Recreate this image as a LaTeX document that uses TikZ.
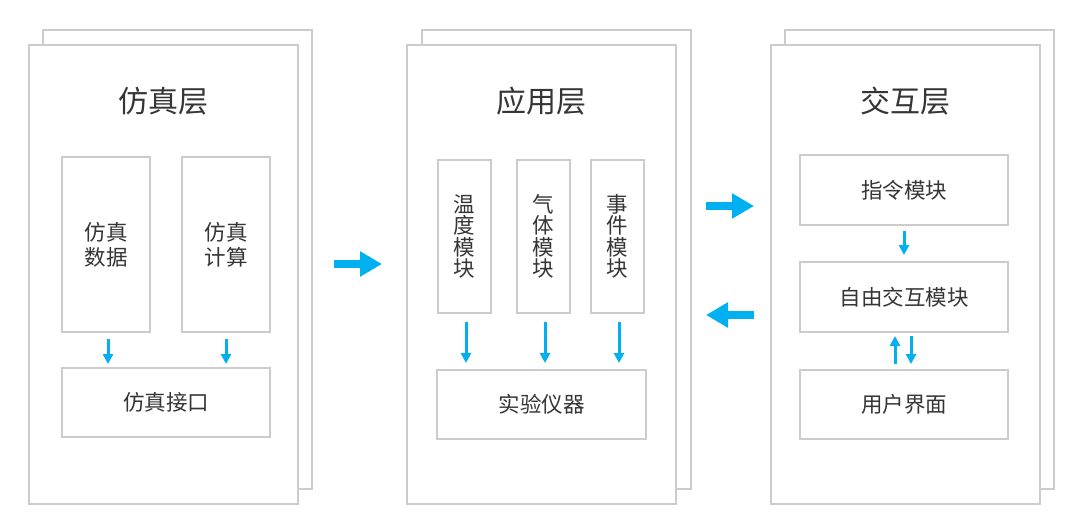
\documentclass[tikz,border=0pt]{standalone}
\usepackage{fontspec}
\newfontfamily\cjk{Noto Sans CJK SC}
\usetikzlibrary{arrows.meta,positioning}
\definecolor{edgegray}{HTML}{CCCCCC}
\definecolor{textgray}{HTML}{353535}
\definecolor{flowblue}{HTML}{00B0F0}

\begin{document}
\begin{tikzpicture}[x=1pt,y=-1pt,
		layer/.style={draw=edgegray,line width=2pt,fill=white,inner sep=0pt,minimum width=269,minimum height=459},
		title/.style={text=textgray,font=\cjk\fontsize{30}{32}\selectfont},
		box/.style={draw=edgegray,line width=2pt,inner sep=0pt,text=textgray,align=center,font=\cjk\fontsize{21.5}{25}\selectfont},
		vbox/.style={box,minimum width=53,minimum height=153,font=\cjk\fontsize{21.5}{21.5}\selectfont},
		bigarrow/.style={draw=flowblue,line width=8pt,-{Triangle[width=24pt,length=22pt]}},
		smallarrow/.style={draw=flowblue,line width=3pt,-{Triangle[width=10pt,length=10pt]}}]
		\useasboundingbox (0,0) rectangle (1084,523);
		
		% layers, back sheet first
		\node[layer] (b1) at (177.5,259) {};
		\node[layer] (p1) at (163.5,274.5) {};
		\node[layer] (b2) at (556.5,259) {};
		\node[layer] (p2) at (541.5,274.5) {};
		\node[layer] (b3) at (919.5,259) {};
		\node[layer] (p3) at (905.5,274.5) {};
		
		\node[title] (t1) at (163,101) {仿真层};
		\node[title] (t2) at (541,101) {应用层};
		\node[title] (t3) at (905,101) {交互层};
		
		% simulation layer
		\node[box,minimum width=88,minimum height=175] (data) at (106,244.5) {仿真\\数据};
		\node[box,minimum width=88,minimum height=175] (calc) at (226,244.5) {仿真\\计算};
		\node[box,minimum width=208,minimum height=69] (iface) at (166,402.5) {仿真接口};
		
		% application layer
		\node[vbox] (temp) at (464.5,236.5) {温\\度\\模\\块};
		\node[vbox] (gas) at (543.5,236.5) {气\\体\\模\\块};
		\node[vbox] (event) at (617.5,236.5) {事\\件\\模\\块};
		\node[box,minimum width=209,minimum height=69] (instr) at (541.5,404.5) {实验仪器};
		
		% interaction layer
		\node[box,minimum width=208,minimum height=70] (cmd) at (904,190) {指令模块};
		\node[box,minimum width=208,minimum height=70] (free) at (904,297) {自由交互模块};
		\node[box,minimum width=208,minimum height=69] (ui) at (904,404.5) {用户界面};
		
		\coordinate (a1s) at (334,264);
		\coordinate (a1e) at (382,264);
		\coordinate (a2s) at (706,206);
		\coordinate (a2e) at (754,206);
		\coordinate (a3s) at (754,315);
		\coordinate (a3e) at (706,315);
		
		\draw[bigarrow] (a1s) -- (a1e);
		\draw[bigarrow] (a2s) -- (a2e);
		\draw[bigarrow] (a3s) -- (a3e);
		
		\draw[smallarrow,shorten <=6pt,shorten >=3pt] ([xshift=2]data.south) -- ([xshift=2]data.south |- iface.north);
		\draw[smallarrow,shorten <=6pt,shorten >=3pt] (calc.south) -- (calc.south |- iface.north);
		\draw[smallarrow,shorten <=8pt,shorten >=6pt] ([xshift=1.5]temp.south) -- ([xshift=1.5]temp.south |- instr.north);
		\draw[smallarrow,shorten <=8pt,shorten >=6pt] ([xshift=1.5]gas.south) -- ([xshift=1.5]gas.south |- instr.north);
		\draw[smallarrow,shorten <=8pt,shorten >=6pt] ([xshift=1.5]event.south) -- ([xshift=1.5]event.south |- instr.north);
		\draw[smallarrow,shorten <=5pt,shorten >=6pt] (cmd.south) -- (free.north);
		\draw[smallarrow,shorten <=5pt,shorten >=3pt] ([xshift=-9]ui.north) -- ([xshift=-9]free.south);
		\draw[smallarrow,shorten <=3pt,shorten >=5pt] ([xshift=7]free.south) -- ([xshift=7]ui.north);
\end{tikzpicture}
\end{document}
